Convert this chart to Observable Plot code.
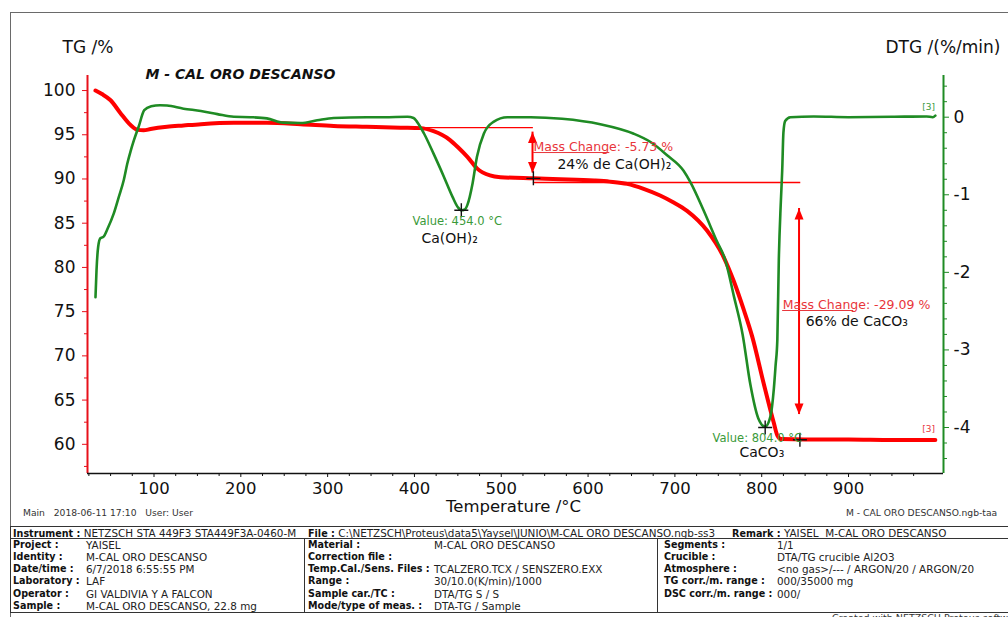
<!DOCTYPE html>
<html>
<head>
<meta charset="utf-8">
<script src="https://cdn.jsdelivr.net/npm/d3@7"></script>
<script src="https://cdn.jsdelivr.net/npm/@observablehq/plot@0.6"></script>
<style>
  body { margin: 0; background: #fff; }
  #page { position: relative; width: 1008px; height: 617px; overflow: hidden;
          font-family: "DejaVu Sans", sans-serif; color: #111; background: #fff; }
  #chart { position: absolute; left: 0; top: 0; }
  #frame { position: absolute; left: 10px; top: 12px; width: 1020px; height: 640px;
           border-top: 1px solid #6a6a6a; border-left: 1px solid #6a6a6a; pointer-events: none; }
  .foot { position: absolute; top: 507px; font-size: 9.2px; white-space: pre; color: #333; }
  #table { position: absolute; left: 10px; top: 526px; width: 1020px; height: 85px;
           border-top: 1.5px solid #333; border-bottom: 1.5px solid #333; border-left: 1.5px solid #333; }
  #table span { position: absolute; white-space: pre; font-size: 10.4px; line-height: 12px; color: #222; }
  #table span.k, #table b { font-weight: bold; font-size: 9.6px; color: #111; }
  #table .hline { position: absolute; left: 0; width: 1020px; border-top: 1px solid #333; }
  #table .vline { position: absolute; border-left: 1px solid #333; }
  .credit { position: absolute; left: 832px; top: 612px; font-size: 9.5px; white-space: pre; color: #333; }
</style>
</head>
<body>
<div id="page">
  <div id="chart"></div>
  <div id="frame"></div>
  <div class="foot" style="left:23px">Main   2018-06-11 17:10   User: User</div>
  <div class="foot" style="left:846px">M - CAL ORO DESCANSO.ngb-taa</div>
  <div id="table"></div>
  <div class="credit">Created with NETZSCH Proteus software</div>
</div>
<script>
// ---- Measured curves (temperature in °C) ----
// TG: residual mass, %
const tgTemp = [32.6, 40, 50, 61, 73, 81, 88, 96, 115, 134, 154, 192, 230, 269, 307, 345, 384, 407,
                422, 441, 451, 461, 472, 487, 499, 537, 568, 607, 625, 645, 664, 683, 698, 714, 737, 756,
                768, 779, 789, 802, 814, 818, 822, 850, 900, 950, 1000];
const tgMass = [100.0, 99.6, 98.9, 97.5, 96.1, 95.55, 95.5, 95.65, 95.9, 96.05, 96.2, 96.35, 96.35, 96.2,
                96.0, 95.9, 95.8, 95.75, 95.4, 94.4, 93.5, 92.5, 91.2, 90.4, 90.2, 90.07, 89.98, 89.83,
                89.7, 89.45, 88.89, 88.13, 87.37, 86.4, 84.17, 81.2, 78.4, 75.3, 72.2, 67.0, 62.4, 61.0,
                60.6, 60.55, 60.55, 60.5, 60.5];

// DTG: rate of mass change, %/min
const dtgTemp = [32.6, 33.8, 35.7, 38.2, 42, 46, 53.7, 59.4, 65.2, 69.2, 73, 76.8, 82.4, 88.8, 96.8, 107,
                 115, 134, 154, 173, 192, 211, 230, 249, 269, 288, 307, 345, 365, 392, 399, 403, 411,
                 422, 434, 444, 450, 454, 458, 461, 467, 472, 480, 491, 507, 534, 570, 614, 652, 672,
                 691, 710, 718, 733, 748, 758, 768, 778, 787, 796, 804, 810, 814, 816, 818, 819.7, 822,
                 823.6, 825, 827, 833, 860, 900, 950, 990, 997, 1000];
const dtgRate = [-2.32, -1.97, -1.67, -1.56, -1.54, -1.45, -1.24, -1.03, -0.81, -0.6, -0.44, -0.3, -0.12,
                 0.09, 0.14, 0.155, 0.15, 0.11, 0.08, 0.04, 0.005, 0.0, -0.015, -0.07, -0.075, -0.04,
                 -0.01, 0.0, 0.0, 0.005, -0.01, -0.06, -0.21, -0.47, -0.77, -1.03, -1.16, -1.2, -1.19,
                 -1.13, -0.85, -0.51, -0.21, -0.06, 0.0, 0.0, -0.02, -0.09, -0.21, -0.32, -0.49, -0.69,
                 -0.84, -1.2, -1.59, -1.84, -2.31, -2.8, -3.45, -3.88, -3.99, -3.86, -3.5, -3.2, -2.87,
                 -1.84, -1.1, -0.69, -0.2, -0.05, 0.0, 0.01, 0.0, 0.005, 0.01, 0.0, 0.02];

// ---- Evaluated steps and peaks ----
const stepTemp   = [537, 844];            // where each mass step is read
const stepStart  = [95.80, 89.60];        // TG level before the step, %
const stepChange = [-5.73, -29.09];       // mass change, %
const stepNote   = ["24% de Ca(OH)₂", "66% de CaCO₃"];

const peakTemp  = [454.0, 804.0];         // DTG peak temperatures, °C
const peakRate  = [-1.2, -4.0];           // DTG at the peaks, %/min
const peakName  = ["Ca(OH)₂", "CaCO₃"];

// ---- Axes ----
const tempTicks = [100, 200, 300, 400, 500, 600, 700, 800, 900];
const tgTicks   = [60, 65, 70, 75, 80, 85, 90, 95, 100];
const dtgTicks  = [-4, -3, -2, -1, 0];
const tempDomain = [23.4, 1009.4];
const tgDomain   = [56.7, 101.7];

// DTG shares the plot area with TG: map %/min onto the TG (%) scale
const dtgZero = 96.985, dtgUnit = 8.771;
const dtgToTg = d => dtgZero + dtgUnit * d;
const tgToDtg = v => (v - dtgZero) / dtgUnit;

const tempMinor = d3.range(25, 1001, 25).filter(t => t % 100 !== 0);
const tgMinor   = d3.range(57.5, 100, 5);
const dtgMinor  = d3.range(-44, 5, 2).map(k => k / 10).filter(d => Math.abs(d - Math.round(d)) > 1e-9);

const tg  = tgTemp.map((t, i) => ({t, v: tgMass[i]}));
const dtg = dtgTemp.map((t, i) => ({t, v: dtgToTg(dtgRate[i])}));

const steps = stepTemp.map((t, i) => ({
  t, from: stepStart[i], to: +(stepStart[i] + stepChange[i]).toFixed(2), change: stepChange[i], note: stepNote[i]
}));
const peaks = peakTemp.map((t, i) => ({t, v: dtgToTg(peakRate[i]), name: peakName[i]}));

const RED = "#ff0000", AXRED = "#e8101a", GREEN = "#1f8b24", LABGREEN = "#3a9a3a", MCRED = "#e8353a";

// Annotation layout (temperature / TG units)
const stepLine   = [{x1: 395, x2: 537}, {x1: 537, x2: 845}];
const arrowInset = [[0.5, 0.6], [2.94, 2.86]];
const stepLabel  = [{t: 537.1, v: 93.56, under: 625, uv: 92.99, nt: 564.7, nv: 91.64},
                    {t: 824.1, v: 75.70, under: 906, uv: 75.13, nt: 850.6, nv: 73.88}];
const peakLabel  = [{t: 397.7, v: 85.25, nt: 408.1, nv: 83.27},
                    {t: 743.4, v: 60.71, nt: 774.4, nv: 59.07}];

// Arrowheads drawn with the tip at the data point
const headUp   = {draw(c) { c.moveTo(0, 0); c.lineTo(4.5, 11); c.lineTo(-4.5, 11); c.closePath(); }};
const headDown = {draw(c) { c.moveTo(0, 0); c.lineTo(4.5, -11); c.lineTo(-4.5, -11); c.closePath(); }};
const cross    = {draw(c) { c.moveTo(-7, 0); c.lineTo(7, 0); c.moveTo(0, -7); c.lineTo(0, 7); }};

const arrows = steps.map((s, i) => ({t: s.t - 1, top: s.from - arrowInset[i][0], bottom: s.to + arrowInset[i][1]}));

const chart = Plot.plot({
  width: 1008,
  height: 522,
  marginLeft: 87,
  marginRight: 65,
  marginTop: 75,
  marginBottom: 49,
  x: {domain: tempDomain},
  y: {domain: tgDomain},
  style: {fontFamily: "DejaVu Sans, sans-serif", fontSize: "17px", color: "#111", background: "white", overflow: "visible"},
  marks: [
    // axis lines
    Plot.ruleX([tempDomain[0]], {y1: tgDomain[0], y2: tgDomain[1], stroke: AXRED, strokeWidth: 2}),
    Plot.ruleX([tempDomain[1]], {y1: tgDomain[0], y2: tgDomain[1], stroke: GREEN, strokeWidth: 2}),
    Plot.ruleY([tgDomain[0]], {x1: tempDomain[0], x2: tempDomain[1], stroke: "#111", strokeWidth: 1.5}),

    // temperature axis
    Plot.axisX({ticks: tempTicks, anchor: "bottom", tickSize: 4, tickPadding: 5, fontSize: 16.5, label: null, stroke: "#111", fill: "#111"}),
    Plot.axisX({ticks: tempMinor, anchor: "bottom", tickSize: 3, tickFormat: () => "", label: null, stroke: "#111"}),

    // TG axis (left)
    Plot.axisY({ticks: tgTicks, anchor: "left", tickSize: 5, tickPadding: 7, fontSize: 17, label: null, stroke: AXRED, fill: "#111"}),
    Plot.axisY({ticks: tgMinor, anchor: "left", tickSize: 3, tickFormat: () => "", label: null, stroke: AXRED}),

    // DTG axis (right)
    Plot.axisY({ticks: dtgTicks.map(dtgToTg), anchor: "right", tickSize: 5, tickPadding: 5, fontSize: 17, label: null,
                stroke: GREEN, fill: "#111", tickFormat: v => String(Math.round(tgToDtg(v)))}),
    Plot.axisY({ticks: dtgMinor.map(dtgToTg), anchor: "right", tickSize: 3, tickFormat: () => "", label: null, stroke: GREEN}),

    // axis titles and sample name
    Plot.text(["TG /%"], {text: d => d, frameAnchor: "top-left", dx: -25, dy: -28, textAnchor: "start", lineAnchor: "middle", fontSize: 17, fill: "#111"}),
    Plot.text(["DTG /(%/min)"], {text: d => d, frameAnchor: "top-right", dx: 57, dy: -28, textAnchor: "end", lineAnchor: "middle", fontSize: 17, fill: "#111"}),
    Plot.text(["Temperature /°C"], {text: d => d, frameAnchor: "bottom", dx: -2, dy: 33, lineAnchor: "middle", fontSize: 16.5, fill: "#111"}),
    Plot.text(["M - CAL ORO DESCANSO"], {text: d => d, frameAnchor: "top-left", dx: 58, dy: -1, textAnchor: "start", lineAnchor: "middle",
                fontSize: 14, fontWeight: "bold", fontStyle: "italic", fill: "#111"}),

    // mass-step reference levels
    Plot.ruleY(steps, {y: "from", x1: (d, i) => stepLine[i].x1, x2: (d, i) => stepLine[i].x2, stroke: RED, strokeWidth: 1.3}),

    // curves
    Plot.line(tg, {x: "t", y: "v", stroke: RED, strokeWidth: 4, curve: "monotone-x"}),
    Plot.line(dtg, {x: "t", y: "v", stroke: GREEN, strokeWidth: 2.6, curve: "monotone-x"}),

    // mass-step arrows
    Plot.ruleX(arrows, {x: "t", y1: "top", y2: "bottom", stroke: RED, strokeWidth: 2}),
    Plot.dot(arrows, {x: "t", y: "top", symbol: headUp, fill: RED, stroke: null}),
    Plot.dot(arrows, {x: "t", y: "bottom", symbol: headDown, fill: RED, stroke: null}),

    // evaluation markers
    Plot.dot(steps, {x: "t", y: "to", symbol: cross, stroke: "#111", strokeWidth: 1.4, fill: null}),
    Plot.dot(peaks, {x: "t", y: "v", symbol: cross, stroke: "#111", strokeWidth: 1.4, fill: null}),

    // step labels
    Plot.ruleY(steps, {y: (d, i) => stepLabel[i].uv, x1: (d, i) => stepLabel[i].t, x2: (d, i) => stepLabel[i].under, stroke: MCRED, strokeWidth: 1}),
    Plot.text(steps, {x: (d, i) => stepLabel[i].t, y: (d, i) => stepLabel[i].v, text: d => `Mass Change: ${d.change.toFixed(2)} %`,
                      textAnchor: "start", lineAnchor: "middle", fontSize: 12.5, fill: MCRED}),
    Plot.text(steps, {x: (d, i) => stepLabel[i].nt, y: (d, i) => stepLabel[i].nv, text: "note",
                      textAnchor: "start", lineAnchor: "middle", fontSize: 14, fill: "#111"}),

    // peak labels
    Plot.text(peaks, {x: (d, i) => peakLabel[i].t, y: (d, i) => peakLabel[i].v, text: d => `Value: ${d.t.toFixed(1)} °C`,
                      textAnchor: "start", lineAnchor: "middle", fontSize: 11.5, fill: LABGREEN}),
    Plot.text(peaks, {x: (d, i) => peakLabel[i].nt, y: (d, i) => peakLabel[i].nv, text: "name",
                      textAnchor: "start", lineAnchor: "middle", fontSize: 14, fill: "#111"}),

    // segment tags at the curve ends
    Plot.text([{t: 985, v: 98.08}], {x: "t", y: "v", text: () => "[3]", textAnchor: "start", lineAnchor: "middle", fontSize: 9, fill: LABGREEN}),
    Plot.text([{t: 985, v: 61.67}], {x: "t", y: "v", text: () => "[3]", textAnchor: "start", lineAnchor: "middle", fontSize: 9, fill: MCRED})
  ]
});
document.getElementById("chart").appendChild(chart);

// ---- Measurement information block ----
const headerRow = [
  ["Instrument :", " NETZSCH STA 449F3 STA449F3A-0460-M"],
  ["File :", " C:\\NETZSCH\\Proteus\\data5\\Yaysel\\JUNIO\\M-CAL ORO DESCANSO.ngb-ss3"],
  ["Remark :", " YAISEL  M-CAL ORO DESCANSO"]
];
const headerX = [12, 307, 731];
const col1Keys = ["Project :", "Identity :", "Date/time :", "Laboratory :", "Operator :", "Sample :"];
const col1Vals = ["YAISEL", "M-CAL ORO DESCANSO", "6/7/2018 6:55:55 PM", "LAF", "GI VALDIVIA Y A FALCON", "M-CAL ORO DESCANSO, 22.8 mg"];
const col2Keys = ["Material :", "Correction file :", "Temp.Cal./Sens. Files :", "Range :", "Sample car./TC :", "Mode/type of meas. :"];
const col2Vals = ["M-CAL ORO DESCANSO", "", "TCALZERO.TCX / SENSZERO.EXX", "30/10.0(K/min)/1000", "DTA/TG S / S", "DTA-TG / Sample"];
const col3Keys = ["Segments :", "Crucible :", "Atmosphere :", "TG corr./m. range :", "DSC corr./m. range :"];
const col3Vals = ["1/1", "DTA/TG crucible Al2O3", "<no gas>/--- / ARGON/20 / ARGON/20", "000/35000 mg", "000/"];

const table = document.getElementById("table");
const ox = 10, oy = 526;
function span(text, x, yCenter, key) {
  const s = document.createElement("span");
  s.textContent = text;
  if (key) s.className = "k";
  s.style.left = (x - ox) + "px";
  s.style.top = (yCenter - oy - 7) + "px";
  table.appendChild(s);
  return s;
}
function line(cls, style) {
  const d = document.createElement("div");
  d.className = cls;
  Object.assign(d.style, style);
  table.appendChild(d);
}
// header row: bold key followed by its value
headerRow.forEach(([k, v], i) => {
  const s = span("", headerX[i], 532.5, false);
  const b = document.createElement("b");
  b.textContent = k;
  s.append(b, v);
});
line("hline", {top: "10.5px"});
line("vline", {left: (303 - ox) + "px", top: "11px", height: "74px"});
line("vline", {left: (656 - ox) + "px", top: "11px", height: "74px"});

const rowY = [545, 557, 569, 581, 593.5, 605.5];
col1Keys.forEach((k, i) => { span(k, 12, rowY[i], true); span(col1Vals[i], 85, rowY[i], false); });
col2Keys.forEach((k, i) => { span(k, 307, rowY[i], true); span(col2Vals[i], 433, rowY[i], false); });
col3Keys.forEach((k, i) => { span(k, 663, rowY[i], true); span(col3Vals[i], 776, rowY[i], false); });
</script>
</body>
</html>
